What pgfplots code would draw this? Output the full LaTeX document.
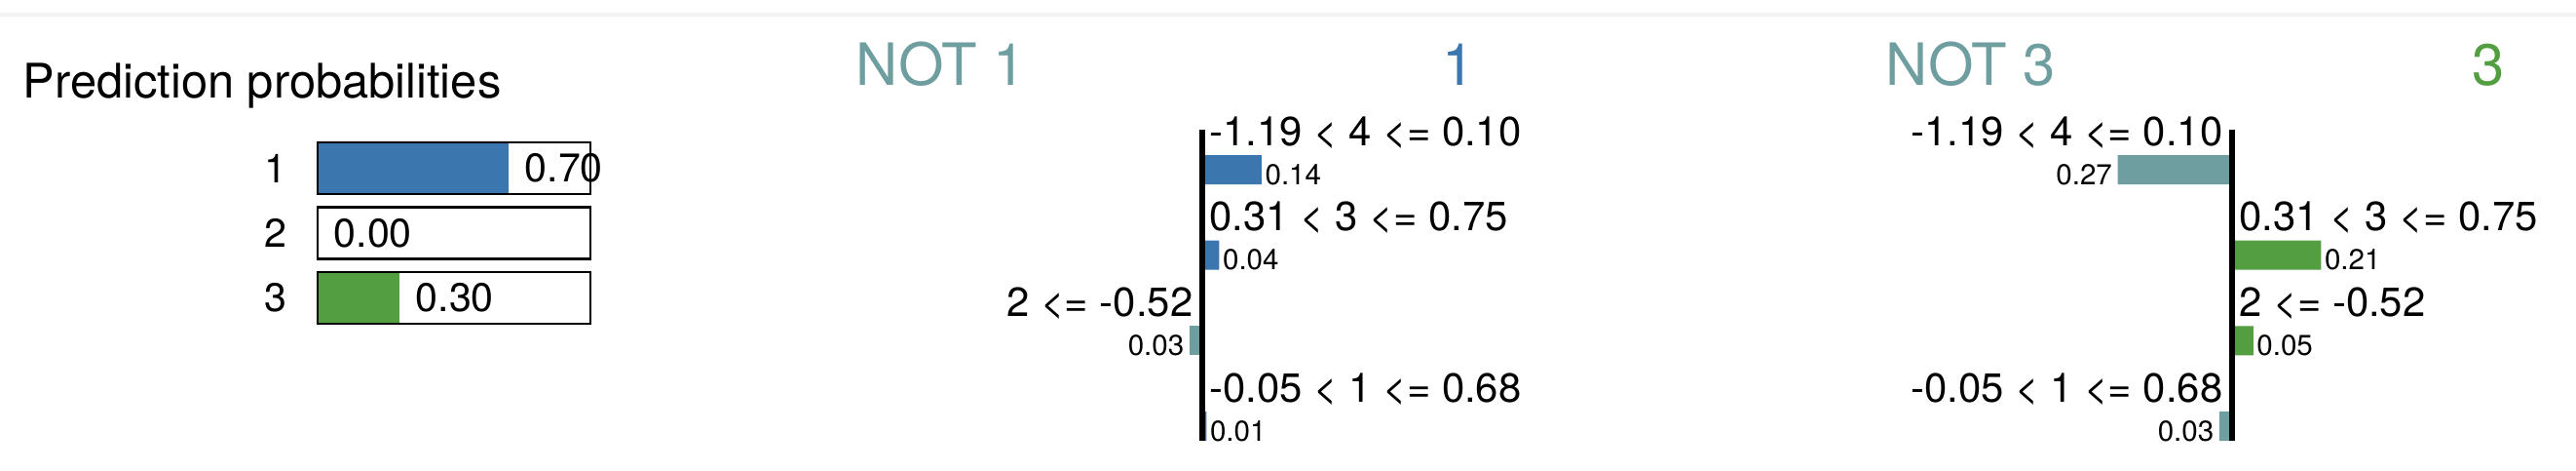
\documentclass[border=0pt]{standalone}
\usepackage{fontspec}
\setmainfont{TeX Gyre Heros}
\usepackage{pgfplots}
\pgfplotsset{compat=1.18}
\definecolor{limeblue}{RGB}{59,118,175}
\definecolor{limegreen}{RGB}{83,158,64}
\definecolor{limeteal}{RGB}{111,158,160}
\definecolor{bandgray}{RGB}{242,242,242}
\tikzset{titlefont/.style={inner sep=0pt, font=\fontsize{17}{20}\selectfont}}
\pgfplotsset{
  limepanel/.style={
    scale only axis, hide axis, clip=false,
    width=6.09cm, height=3.508cm,
    xmin=-0.8, xmax=0.6, ymin=0.5, ymax=4.5, y dir=reverse,
  },
  posbar/.style={xbar, bar shift=0pt, bar width=0.30cm, draw=none, fill=#1,
    nodes near coords, point meta=explicit symbolic,
    nodes near coords style={anchor=base west, inner sep=0pt, xshift=0.03cm, yshift=-0.15cm,
      font=\fontsize{8.4}{10}\selectfont, text=black}},
  negbar/.style={xbar, bar shift=0pt, bar width=0.30cm, draw=none, fill=#1,
    nodes near coords, point meta=explicit symbolic,
    nodes near coords style={anchor=base east, inner sep=0pt, xshift=-0.05cm, yshift=-0.15cm,
      font=\fontsize{8.4}{10}\selectfont, text=black}},
  poslab/.style={draw=none, mark=none, nodes near coords, point meta=explicit symbolic,
    nodes near coords style={anchor=base west, inner sep=0pt, xshift=0.07cm, yshift=0.25cm,
      font=\fontsize{11.9}{14}\selectfont, text=black}},
  neglab/.style={draw=none, mark=none, nodes near coords, point meta=explicit symbolic,
    nodes near coords style={anchor=base east, inner sep=0pt, xshift=-0.09cm, yshift=0.25cm,
      font=\fontsize{11.9}{14}\selectfont, text=black}},
}
\begin{document}
\begin{tikzpicture}
\useasboundingbox (0,0) rectangle (26.44,-4.82);
\fill[bandgray] (0,-0.13) rectangle (26.44,-0.17);
\node[anchor=base west, inner sep=0pt, font=\fontsize{13.9}{16}\selectfont] at (0.23,-1.00) {Prediction probabilities};

% prediction probabilities
\begin{axis}[at={(3.26cm,-1.3925cm)}, anchor=north west, scale only axis,
  width=2.8cm, height=1.995cm, xmin=0, xmax=1, ymin=0.5, ymax=3.5, y dir=reverse,
  axis line style={draw=none}, xtick=\empty, ytick={1,2,3}, major tick length=0pt,
  yticklabel style={anchor=east, inner sep=0pt, xshift=-0.31cm, font=\fontsize{11.7}{13}\selectfont},
  /pgf/number format/assume math mode=true, clip=false]
\addplot[xbar, bar shift=0pt, bar width=0.53cm, fill=limeblue, draw=none] coordinates {(0.70,1)};
\addplot[xbar, bar shift=0pt, bar width=0.53cm, fill=limegreen, draw=none] coordinates {(0.30,3)};
\addplot[xbar, bar shift=0pt, bar width=0.53cm, fill=none, draw=black, line width=0.85pt] coordinates {(1,1) (1,2) (1,3)};
\addplot[draw=none, mark=none,
  nodes near coords={\pgfmathprintnumber[fixed,fixed zerofill,precision=2,assume math mode=true]{\pgfplotspointmeta}},
  point meta=x,
  nodes near coords style={anchor=west, inner sep=0pt, xshift=0.16cm, font=\fontsize{11.7}{13}\selectfont, text=black}]
  coordinates {(0.70,1) (0.00,2) (0.30,3)};
\end{axis}

% explanation for class 1
\begin{axis}[limepanel, at={(8.86cm,-1.3015cm)}, anchor=north west]
\addplot[posbar=limeblue] coordinates {(0.14,1) [0.14] (0.04,2) [0.04] (0.01,4) [0.01]};
\addplot[negbar=limeteal] coordinates {(-0.03,3) [0.03]};
\addplot[poslab] coordinates {(0,1) [{-1.19 < 4 <= 0.10}] (0,2) [{0.31 < 3 <= 0.75}] (0,4) [{-0.05 < 1 <= 0.68}]};
\addplot[neglab] coordinates {(0,3) [{2 <= -0.52}]};
\draw[line width=1.56pt] (axis cs:0,0.532) -- (axis cs:0,4.17);
\node[titlefont, anchor=base west, text=limeteal] at (axis cs:-0.818,0.008) {NOT 1};
\node[titlefont, anchor=base east, text=limeblue] at (axis cs:0.644,0.008) {1};
\end{axis}

% explanation for class 3
\begin{axis}[limepanel, at={(19.43cm,-1.3015cm)}, anchor=north west]
\addplot[posbar=limegreen] coordinates {(0.21,2) [0.21] (0.05,3) [0.05]};
\addplot[negbar=limeteal] coordinates {(-0.27,1) [0.27] (-0.03,4) [0.03]};
\addplot[poslab] coordinates {(0,2) [{0.31 < 3 <= 0.75}] (0,3) [{2 <= -0.52}]};
\addplot[neglab] coordinates {(0,1) [{-1.19 < 4 <= 0.10}] (0,4) [{-0.05 < 1 <= 0.68}]};
\draw[line width=1.56pt] (axis cs:0,0.532) -- (axis cs:0,4.17);
\node[titlefont, anchor=base west, text=limeteal] at (axis cs:-0.818,0.008) {NOT 3};
\node[titlefont, anchor=base east, text=limegreen] at (axis cs:0.644,0.008) {3};
\end{axis}
\end{tikzpicture}
\end{document}
